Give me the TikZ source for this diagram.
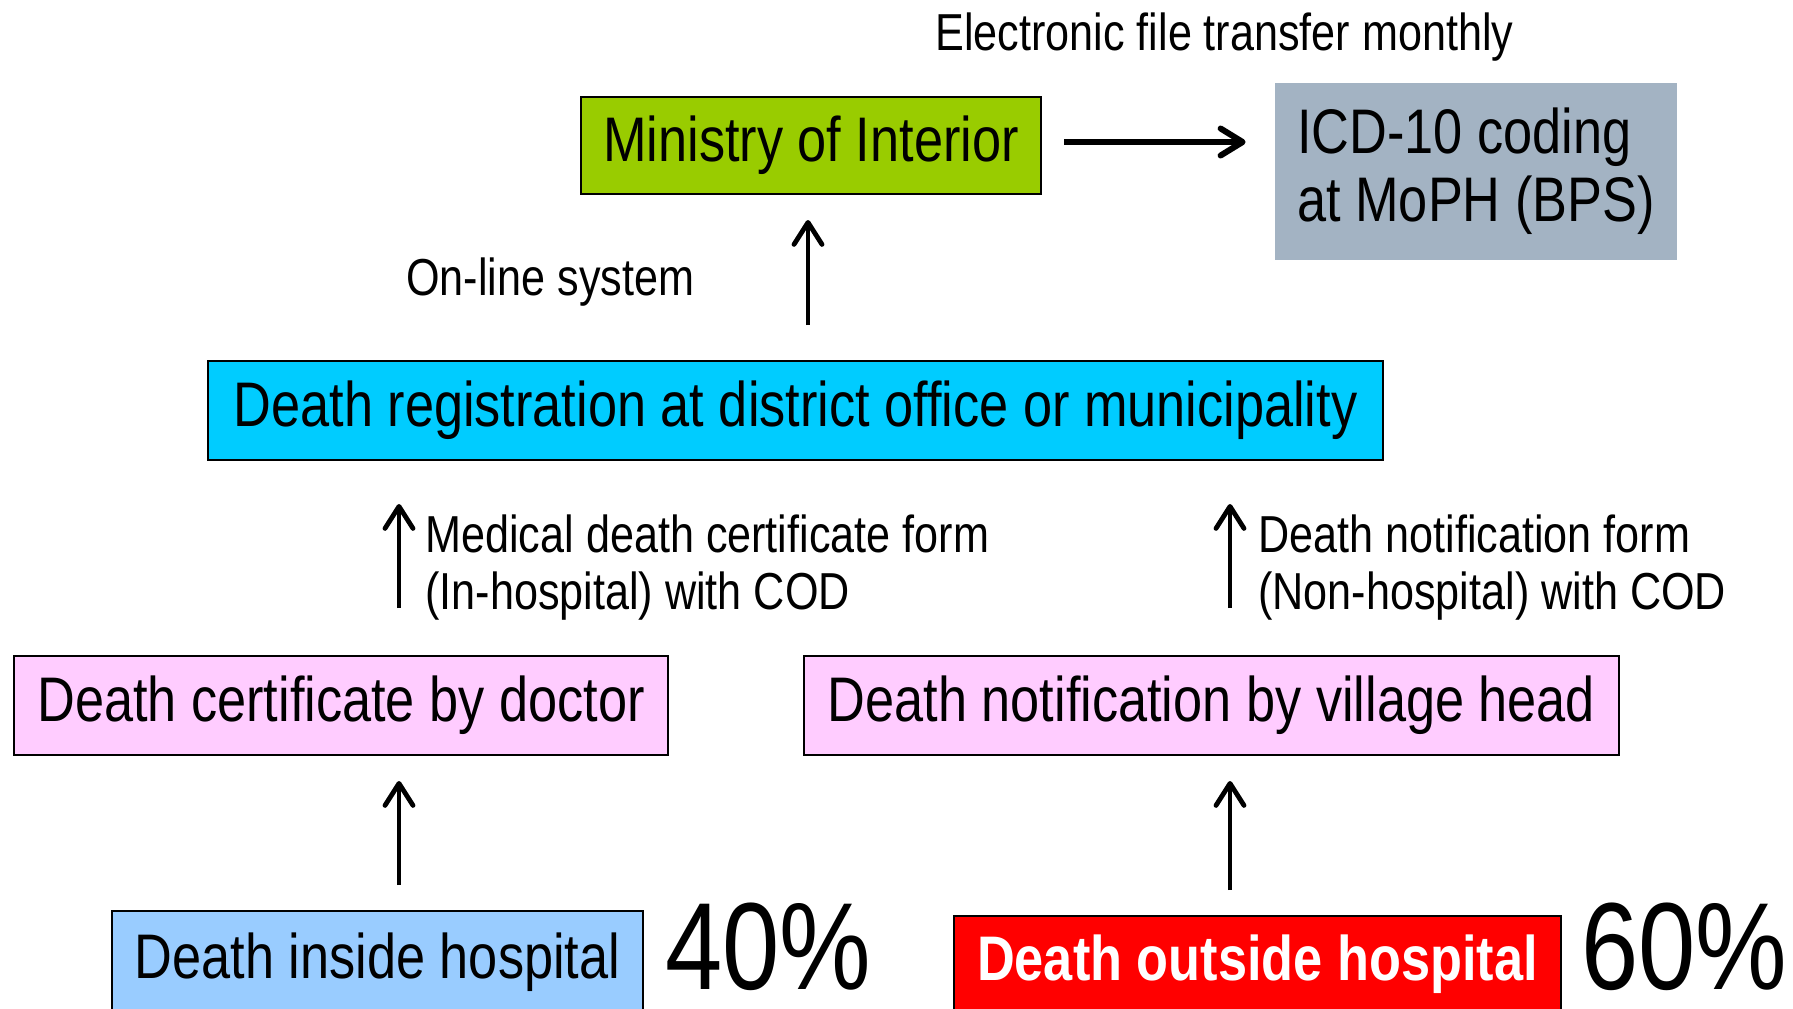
\documentclass[tikz,border=0pt]{standalone}
\usepackage{fontspec}
\setmainfont{Liberation Sans}[FakeStretch=0.83]
\usetikzlibrary{arrows.meta}

\definecolor{moigreen}{HTML}{99CC00}
\definecolor{icdgray}{HTML}{A3B3C3}
\definecolor{regcyan}{HTML}{00CCFF}
\definecolor{formpink}{HTML}{FFCCFF}
\definecolor{hospblue}{HTML}{99CCFF}

\begin{document}
\begin{tikzpicture}[x=0.5pt,y=-0.5pt,
                    box/.style={draw=black, line width=1pt, inner sep=0pt,
                                font=\fontsize{31.5}{34}\selectfont,
                                text height=22.7pt, text depth=6.3pt},
                    note/.style={inner sep=0pt, align=left,
                                 font=\fontsize{26}{28.5}\selectfont},
                    share/.style={inner sep=0pt, anchor=base west, text depth=0pt,
                                  font=\fontsize{62}{66}\selectfont},
                    uparrow/.style={line width=2.4pt,
                                    -{Straight Barb[length=11pt,width=14pt,round]}},
                    sidearrow/.style={line width=3pt,
                                      -{Straight Barb[length=11pt,width=13.5pt,round]}}]
    \useasboundingbox (0,0) rectangle (1793,1008);
    \coordinate (lx) at (399,0);
    \coordinate (rx) at (1230,0);

    \node[box, fill=moigreen, minimum width=230pt, minimum height=48.5pt] (moi) at (811,145.5) {Ministry of Interior};
    \node[fill=icdgray, inner sep=0pt, minimum width=201pt, minimum height=88.5pt,
          align=left, font=\fontsize{31.5}{34}\selectfont] (icd) at (1476,171) {ICD-10 coding\\at MoPH (BPS)};
    \node[box, fill=regcyan, minimum width=587.5pt, minimum height=49.5pt] (reg) at (795.5,410.5) {Death registration at district office or municipality};
    \node[box, fill=formpink, minimum width=327pt, minimum height=49.5pt] (cert) at (341,705.5) {Death certificate by doctor};
    \node[box, fill=formpink, minimum width=407.5pt, minimum height=49.5pt] (notif) at (1211.5,705.5) {Death notification by village head};
    \node[box, fill=hospblue, minimum width=265.5pt, minimum height=51pt] (inside) at (377.5,962) {Death inside hospital};
    \node[box, fill=red, text=white, minimum width=303.5pt, minimum height=48pt,
          font=\fontsize{31.5}{34}\selectfont\bfseries] (outside) at (1257.5,964) {Death outside hospital};

    \node[share] (pin) at (665,989) {40\%};
    \node[share] (pout) at (1581,989) {60\%};

    \node[note, anchor=base west] (monthly) at (935,50) {Electronic file transfer monthly};
    \node[note, anchor=base west] (online) at (406,295) {On-line system};
    \node[note, anchor=north west] (medform) at (425,514) {Medical death certificate form\\(In-hospital) with COD};
    \node[note, anchor=north west] (notform) at (1258,514) {Death notification form\\(Non-hospital) with COD};

    \draw[sidearrow, shorten <=11pt, shorten >=14.5pt] (moi.east |- 0,142) -- (icd.west |- 0,142);
    \draw[uparrow, shorten <=17.5pt, shorten >=12.5pt] (reg.north -| 808,0) -- (moi.south -| 808,0);
    \draw[uparrow, shorten <=23.5pt, shorten >=21.5pt] (cert.north -| lx) -- (reg.south -| lx);
    \draw[uparrow, shorten <=23.5pt, shorten >=21.5pt] (notif.north -| rx) -- (reg.south -| rx);
    \draw[uparrow, shorten <=12.5pt, shorten >=12.5pt] (inside.north -| lx) -- (cert.south -| lx);
    \draw[uparrow, shorten <=12.5pt, shorten >=12.5pt] (outside.north -| rx) -- (notif.south -| rx);
\end{tikzpicture}
\end{document}
